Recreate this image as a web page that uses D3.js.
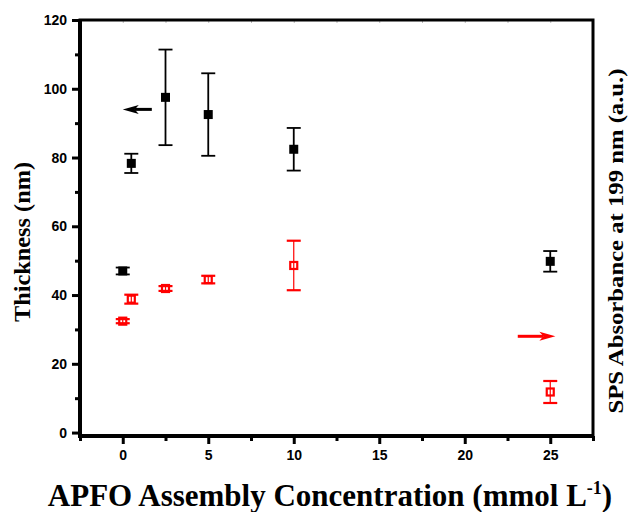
<!DOCTYPE html>
<html>
<head>
<meta charset="utf-8">
<script src="https://d3js.org/d3.v7.min.js"></script>
<style>
  body { margin: 0; background: #fff; }
  .tick text { font-family: "Liberation Sans", Arial, sans-serif; font-weight: bold; font-size: 14px; }
  .title { font-family: "Liberation Serif", "Times New Roman", serif; font-weight: bold; }
</style>
</head>
<body>
<script>
    // thickness (black, left axis)
    var thickX = [0, 0.5, 2.5, 5, 10, 25];
    var thickY = [47.0, 78.3, 97.5, 92.5, 82.4, 49.8];
    var thickErr = [1.0, 2.8, 13.9, 12.0, 6.2, 3.0];

    // SPS absorbance (red, right axis)
    var absX = [0, 0.5, 2.5, 5, 10, 25];
    var absY = [32.4, 38.8, 41.9, 44.5, 48.6, 11.8];
    var absErr = [0.6, 1.3, 0.7, 1.1, 7.2, 3.2];

    var xTicks = [0, 5, 10, 15, 20, 25];
    var xMinor = [-2.5, 2.5, 7.5, 12.5, 17.5, 22.5, 27.5];
    var yTicks = [0, 20, 40, 60, 80, 100, 120];
    var yMinor = [10, 30, 50, 70, 90, 110];

    var W = 631, H = 512;
    var margin = { top: 20, right: 38, bottom: 76, left: 80 },
        width = W - margin.left - margin.right,
        height = H - margin.top - margin.bottom;

    var svg = d3.select("body").append("svg")
        .attr("width", W)
        .attr("height", H)
        .append("g")
        .attr("transform", "translate(" + margin.left + "," + margin.top + ")");

    var x = d3.scaleLinear().domain([-2.5, 27.5]).range([0, width]);
    var y = d3.scaleLinear().domain([-1, 120]).range([height, 0]);
    var y2 = d3.scaleLinear().domain([-1, 120]).range([height, 0]);

    // top ticks (faint, inward)
    svg.append("g")
        .call(d3.axisTop(x).tickValues(xTicks.concat(xMinor)).tickSizeInner(-3).tickSizeOuter(0).tickFormat(""))
        .call(g => g.select(".domain").remove())
        .selectAll("line").attr("stroke", "#bbb");

    // minor ticks
    svg.append("g")
        .attr("transform", "translate(0," + height + ")")
        .call(d3.axisBottom(x).tickValues(xMinor).tickSize(5).tickFormat(""))
        .call(g => g.select(".domain").remove())
        .selectAll("line").attr("stroke-width", 3);
    svg.append("g")
        .call(d3.axisLeft(y).tickValues(yMinor).tickSize(5).tickFormat(""))
        .call(g => g.select(".domain").remove())
        .selectAll("line").attr("stroke-width", 3);

    // major axes
    svg.append("g")
        .attr("transform", "translate(0," + height + ")")
        .call(d3.axisBottom(x).tickValues(xTicks).tickSize(8).tickPadding(6).tickFormat(d3.format("d")))
        .call(g => g.select(".domain").remove())
        .selectAll("line").attr("stroke-width", 3);

    svg.append("g")
        .call(d3.axisLeft(y).tickValues(yTicks).tickSize(8).tickPadding(5).tickFormat(d3.format("d")))
        .call(g => g.select(".domain").remove())
        .selectAll("line").attr("stroke-width", 3);

    // frame
    svg.append("rect")
        .attr("x", 0).attr("y", 0)
        .attr("width", width).attr("height", height)
        .attr("fill", "none")
        .attr("stroke", "#000")
        .attr("stroke-width", 3);
    // heavier left and bottom spines
    svg.append("path")
        .attr("d", "M0,0V" + height + "H" + width)
        .attr("fill", "none")
        .attr("stroke", "#000")
        .attr("stroke-width", 4);

    function drawSeries(xs, ys, es, scale, color, filled) {
        var data = xs.map(function (d, i) { return { x: d, y: ys[i], e: es[i] }; });
        var g = svg.append("g");
        var cap = 7;
        var sw = filled ? 1.8 : 2.2;
        g.selectAll("rect")
            .data(data)
            .enter()
            .append("rect")
            .attr("x", function (d) { return x(d.x) - (filled ? 4.5 : 3.5); })
            .attr("y", function (d) { return scale(d.y) - (filled ? 4.5 : 3.5); })
            .attr("width", filled ? 9 : 7)
            .attr("height", filled ? 9 : 7)
            .attr("fill", filled ? color : "#fff")
            .attr("stroke", filled ? "none" : color)
            .attr("stroke-width", 2.2);
        data.forEach(function (d) {
            g.append("line")
                .attr("x1", x(d.x)).attr("x2", x(d.x))
                .attr("y1", scale(d.y - d.e)).attr("y2", scale(d.y + d.e))
                .attr("stroke", color).attr("stroke-width", filled ? sw : 1.2);
            [d.y - d.e, d.y + d.e].forEach(function (v) {
                g.append("line")
                    .attr("x1", x(d.x) - cap).attr("x2", x(d.x) + cap)
                    .attr("y1", scale(v)).attr("y2", scale(v))
                    .attr("stroke", color).attr("stroke-width", sw);
            });
        });
    }

    drawSeries(thickX, thickY, thickErr, y, "#000", true);
    drawSeries(absX, absY, absErr, y2, "#ff0000", false);

    // arrows
    function arrow(x0, x1, yv, color) {
        var dir = x1 > x0 ? 1 : -1;
        var px0 = x(x0), px1 = x(x1), py = y(yv);
        svg.append("line")
            .attr("x1", px0).attr("x2", px1 - dir * 12)
            .attr("y1", py).attr("y2", py)
            .attr("stroke", color).attr("stroke-width", 3);
        svg.append("path")
            .attr("d", "M" + px1 + "," + py + "L" + (px1 - dir * 16) + "," + (py - 4.5) +
                "L" + (px1 - dir * 12) + "," + py + "L" + (px1 - dir * 16) + "," + (py + 4.5) + "Z")
            .attr("fill", color);
    }
    arrow(1.7, 0.0, 94, "#000");
    arrow(23.1, 25.3, 28, "#ff0000");

    // titles
    svg.append("text")
        .attr("class", "title")
        .attr("transform", "rotate(-90)")
        .attr("x", -222)
        .attr("y", -50)
        .attr("text-anchor", "middle")
        .attr("textLength", 160)
        .attr("lengthAdjust", "spacingAndGlyphs")
        .style("font-size", "23px")
        .text("Thickness (nm)");

    svg.append("text")
        .attr("class", "title")
        .attr("transform", "rotate(-90)")
        .attr("x", -221)
        .attr("y", width + 30)
        .attr("text-anchor", "middle")
        .attr("textLength", 345)
        .attr("lengthAdjust", "spacingAndGlyphs")
        .style("font-size", "21px")
        .text("SPS Absorbance at 199 nm (a.u.)");

    var xt = svg.append("text")
        .attr("class", "title")
        .attr("x", (45 + 615) / 2 - margin.left)
        .attr("y", height + 70)
        .attr("text-anchor", "middle")
        .style("font-size", "31px");
    xt.append("tspan").text("APFO Assembly Concentration (mmol L");
    xt.append("tspan").attr("dy", -12).style("font-size", "18px").text("-1");
    xt.append("tspan").attr("dy", 12).text(")");
</script>
</body>
</html>
